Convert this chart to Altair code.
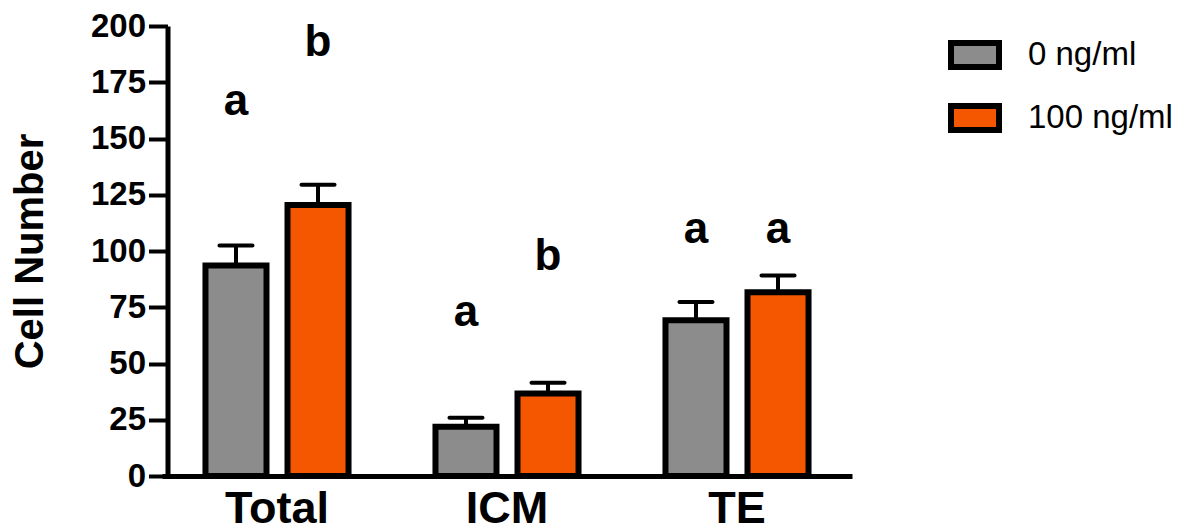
import altair as alt
import pandas as pd

groups = ["Total", "ICM", "TE"]
doses = ["0 ng/ml", "100 ng/ml"]
mean_0 = [93.6, 21.9, 69.2]
mean_100 = [120.5, 36.7, 81.7]
sem_0 = [8.8, 4.0, 8.1]
sem_100 = [8.9, 4.7, 7.4]
letters_0 = ["a", "a", "a"]
letters_100 = ["b", "b", "a"]
letter_y_0 = [160.5, 66.5, 103.5]
letter_y_100 = [186.7, 91.4, 103.5]
y_ticks = [0, 25, 50, 75, 100, 125, 150, 175, 200]
colors = ["#8c8c8c", "#f55600"]

rows = []
for i, g in enumerate(groups):
    rows.append(dict(group=g, dose=doses[0], mean=mean_0[i], hi=mean_0[i] + sem_0[i],
                     letter=letters_0[i], ly=letter_y_0[i]))
    rows.append(dict(group=g, dose=doses[1], mean=mean_100[i], hi=mean_100[i] + sem_100[i],
                     letter=letters_100[i], ly=letter_y_100[i]))
df = pd.DataFrame(rows)

FONT = "Liberation Sans"

x_enc = alt.X("group:N", sort=groups, title="",
              scale=alt.Scale(paddingInner=0, paddingOuter=0),
              axis=alt.Axis(labelFontSize=45, labelFontWeight="bold", labelColor="black",
                            labelFont=FONT, labelAngle=0, ticks=False, domainWidth=5,
                            domainColor="black", labelPadding=10, grid=False))
xoff = alt.XOffset("dose:N", sort=doses,
                   scale=alt.Scale(paddingInner=0.256, paddingOuter=0.53))
y_scale = alt.Scale(domain=[0, 200], nice=False)

base = alt.Chart(df)

bars = base.mark_bar(stroke="black", strokeWidth=6, strokeJoin="miter").encode(
    x=x_enc,
    xOffset=xoff,
    y=alt.Y("mean:Q", scale=y_scale,
            axis=alt.Axis(values=y_ticks, labelFontSize=33, labelFontWeight="bold",
                          labelColor="black", labelFont=FONT, domainWidth=5,
                          domainColor="black", tickWidth=4, tickSize=19,
                          tickColor="black", labelPadding=3, title="Cell Number",
                          titleFontSize=40, titleFontWeight="bold", titleFont=FONT,
                          titleColor="black", titlePadding=40, grid=False, offset=-5.5)),
    color=alt.Color("dose:N", sort=doses,
                    scale=alt.Scale(domain=doses, range=colors),
                    legend=alt.Legend(title=None, orient="none", legendX=786, legendY=2,
                                      symbolType="M-1,-0.5H1V0.5H-1Z", symbolSize=2304,
                                      symbolStrokeWidth=6, symbolStrokeColor="black",
                                      symbolOpacity=1, labelFontSize=33, labelFont=FONT,
                                      labelColor="black", labelOffset=26, rowPadding=12,
                                      padding=0)),
)

stems = base.mark_rule(strokeWidth=4, color="black").encode(
    x=alt.X("group:N", sort=groups), xOffset=xoff,
    y=alt.Y("mean:Q", scale=y_scale), y2="hi:Q")

caps = base.mark_tick(size=37, thickness=4, color="black", orient="horizontal",
                      cornerRadius=2, opacity=1).encode(
    x=alt.X("group:N", sort=groups), xOffset=xoff,
    y=alt.Y("hi:Q", scale=y_scale))

labels = base.mark_text(fontSize=44, fontWeight="bold", font=FONT, color="black",
                        baseline="alphabetic", align="center").encode(
    x=alt.X("group:N", sort=groups), xOffset=xoff,
    y=alt.Y("ly:Q", scale=y_scale), text="letter:N")

chart = alt.layer(bars, stems, caps, labels).properties(
    width=690, height=450,
    padding={"left": 2, "top": 2, "right": 0, "bottom": 0}
).configure(font=FONT).configure_view(stroke="transparent", strokeWidth=0)

chart.save("out.html", embed_options={"renderer": "svg", "actions": False})
